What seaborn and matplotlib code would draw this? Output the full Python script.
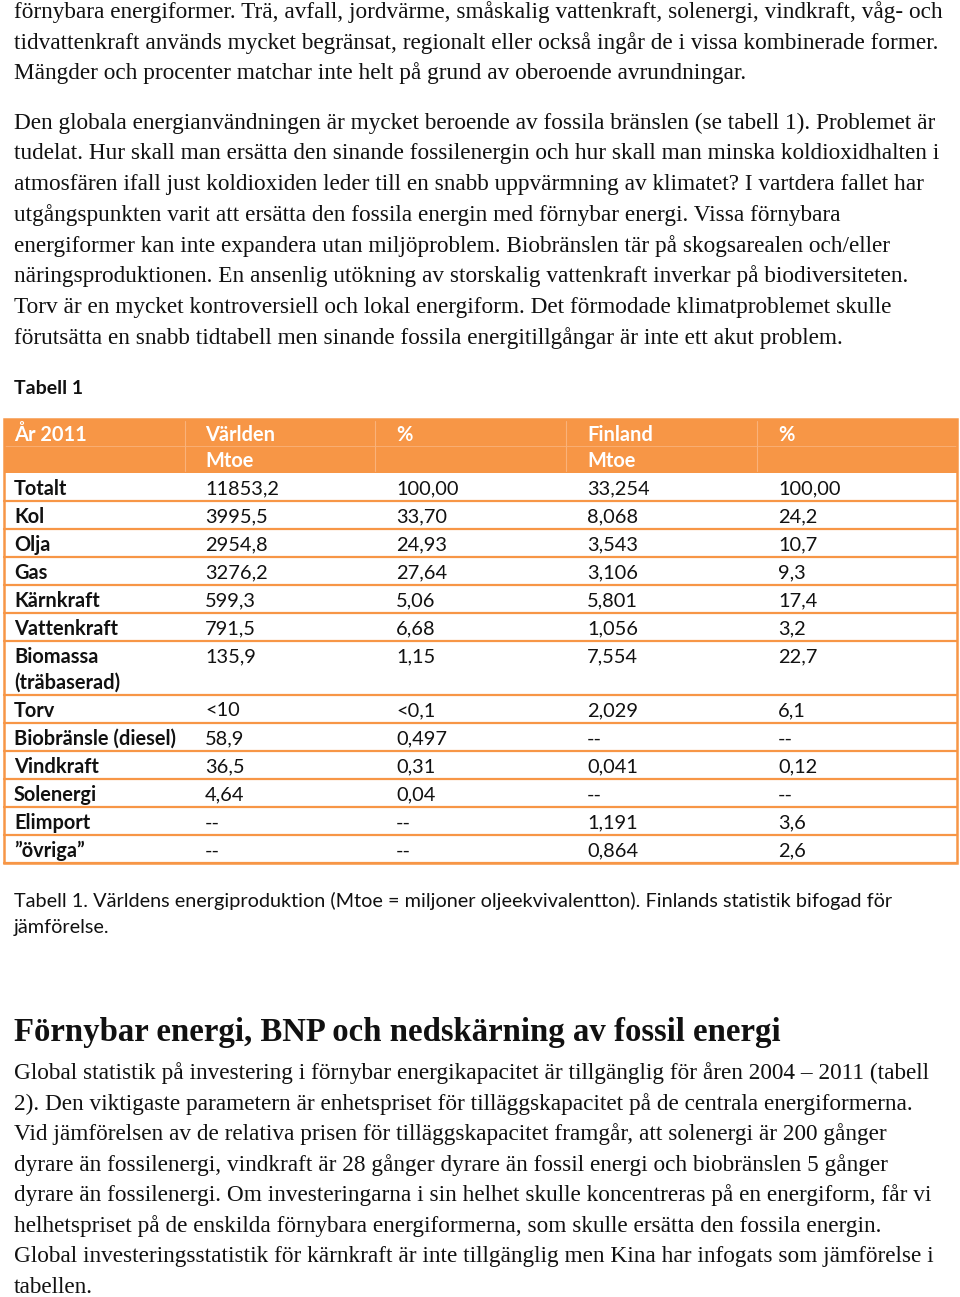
import matplotlib
matplotlib.use("Agg")
import matplotlib.pyplot as plt
import seaborn as sns
from matplotlib.patches import Rectangle

sns.set_theme(style="white")
plt.rcParams['font.family'] = ['Liberation Serif', 'DejaVu Serif']

# ---------------- data ----------------
para1 = [
    "förnybara energiformer. Trä, avfall, jordvärme, småskalig vattenkraft, solenergi, vindkraft, våg- och",
    "tidvattenkraft används mycket begränsat, regionalt eller också ingår de i vissa kombinerade former.",
    "Mängder och procenter matchar inte helt på grund av oberoende avrundningar.",
]
para2 = [
    "Den globala energianvändningen är mycket beroende av fossila bränslen (se tabell 1). Problemet är",
    "tudelat. Hur skall man ersätta den sinande fossilenergin och hur skall man minska koldioxidhalten i",
    "atmosfären ifall just koldioxiden leder till en snabb uppvärmning av klimatet? I vartdera fallet har",
    "utgångspunkten varit att ersätta den fossila energin med förnybar energi. Vissa förnybara",
    "energiformer kan inte expandera utan miljöproblem. Biobränslen tär på skogsarealen och/eller",
    "näringsproduktionen. En ansenlig utökning av storskalig vattenkraft inverkar på biodiversiteten.",
    "Torv är en mycket kontroversiell och lokal energiform. Det förmodade klimatproblemet skulle",
    "förutsätta en snabb tidtabell men sinande fossila energitillgångar är inte ett akut problem.",
]
table_title = "Tabell 1"
header_top = ["År 2011", "Världen", "%", "Finland", "%"]
header_bot = ["", "Mtoe", "", "Mtoe", ""]
categories = ["Totalt", "Kol", "Olja", "Gas", "Kärnkraft", "Vattenkraft",
              "Biomassa\n(träbaserad)", "Torv", "Biobränsle (diesel)", "Vindkraft",
              "Solenergi", "Elimport", "”övriga”"]
world_mtoe = ["11853,2", "3995,5", "2954,8", "3276,2", "599,3", "791,5", "135,9",
              "<10", "58,9", "36,5", "4,64", "--", "--"]
world_pct = ["100,00", "33,70", "24,93", "27,64", "5,06", "6,68", "1,15",
             "<0,1", "0,497", "0,31", "0,04", "--", "--"]
fin_mtoe = ["33,254", "8,068", "3,543", "3,106", "5,801", "1,056", "7,554",
            "2,029", "--", "0,041", "--", "1,191", "0,864"]
fin_pct = ["100,00", "24,2", "10,7", "9,3", "17,4", "3,2", "22,7",
           "6,1", "--", "0,12", "--", "3,6", "2,6"]
caption = ["Tabell 1. Världens energiproduktion (Mtoe = miljoner oljeekvivalentton). Finlands statistik bifogad för",
           "jämförelse."]
heading = "Förnybar energi, BNP och nedskärning av fossil energi"
para3 = [
    "Global statistik på investering i förnybar energikapacitet är tillgänglig för åren 2004 – 2011 (tabell",
    "2). Den viktigaste parametern är enhetspriset för tilläggskapacitet på de centrala energiformerna.",
    "Vid jämförelsen av de relativa prisen för tilläggskapacitet framgår, att solenergi är 200 gånger",
    "dyrare än fossilenergi, vindkraft är 28 gånger dyrare än fossil energi och biobränslen 5 gånger",
    "dyrare än fossilenergi. Om investeringarna i sin helhet skulle koncentreras på en energiform, får vi",
    "helhetspriset på de enskilda förnybara energiformerna, som skulle ersätta den fossila energin.",
    "Global investeringsstatistik för kärnkraft är inte tillgänglig men Kina har infogats som jämförelse i",
    "tabellen.",
]

# ---------------- layout ----------------
W, H = 960, 1297
fig = plt.figure(figsize=(W / 100, H / 100), dpi=100)
ax = fig.add_axes([0, 0, 1, 1])
ax.set_xlim(0, W)
ax.set_ylim(H, 0)
ax.axis("off")

serif = ['Liberation Serif', 'DejaVu Serif']
sans = ['Lato', 'DejaVu Sans']
BODY = 16.75
LX = 14
DY = 2

def block(lines, y0, ls=30.7, dy=DY, size=BODY):
    for i, t in enumerate(lines):
        ax.text(LX, y0 + dy + i * ls, t, fontsize=size, family=serif,
                va="center", ha="left", color="#111111")

block(para1, 10)
block(para2, 121)

ax.text(LX, 386 + DY, table_title, fontsize=14.0, family=sans, weight="bold",
        va="center", ha="left", color="#111111")

# table
ORANGE = "#F79646"
LIGHT = "#FAB27A"
tx0, tx1 = 4, 957
htop, hbot = 419, 473
col_x = [14, 205, 396, 587, 778]
col_sep = [185, 375, 566, 757]
row_h = [28] * len(categories)
row_h[6] = 54

ax.add_patch(Rectangle((tx0, htop), tx1 - tx0, hbot - htop, facecolor=ORANGE,
                       edgecolor="none", zorder=1))
for xs in col_sep:
    ax.plot([xs, xs], [htop + 2, hbot - 2], color=LIGHT, lw=0.8, zorder=2)
ax.plot([tx0, tx1], [446, 446], color=LIGHT, lw=0.6, zorder=2)

TS = 14.4
for j, x in enumerate(col_x):
    ax.text(x, 433 + DY, header_top[j], fontsize=TS, family=sans, weight="bold",
            color="white", va="center", ha="left", zorder=3)
    if header_bot[j]:
        ax.text(x, 459 + DY, header_bot[j], fontsize=TS, family=sans, weight="bold",
                color="white", va="center", ha="left", zorder=3)

y = hbot
cols = [world_mtoe, world_pct, fin_mtoe, fin_pct]
for i, cat in enumerate(categories):
    yc = y + 14 + DY
    lines = cat.split("\n")
    for k, ln in enumerate(lines):
        ax.text(col_x[0], yc + k * 26, ln, fontsize=TS, family=sans, weight="bold",
                color="#111111", va="center", ha="left")
    for j, c in enumerate(cols):
        ax.text(col_x[j + 1], yc, c[i], fontsize=TS, family=sans,
                color="#111111", va="center", ha="left")
    y += row_h[i]
    ax.plot([tx0, tx1], [y, y], color=ORANGE, lw=1.6, zorder=2)
# outer border
ax.add_patch(Rectangle((tx0, htop), tx1 - tx0, y - htop, facecolor="none",
                       edgecolor=ORANGE, lw=1.8, zorder=4))

for i, t in enumerate(caption):
    ax.text(LX, 899 + DY + i * 26, t, fontsize=14.3, family=sans, va="center",
            ha="left", color="#111111")

ax.text(LX, 1030 + DY, heading, fontsize=23.6, family=serif, weight="bold",
        va="center", ha="left", color="#111111")
block(para3, 1072, ls=30.6, dy=1)

fig.savefig("out.png", dpi=100, facecolor="white")
